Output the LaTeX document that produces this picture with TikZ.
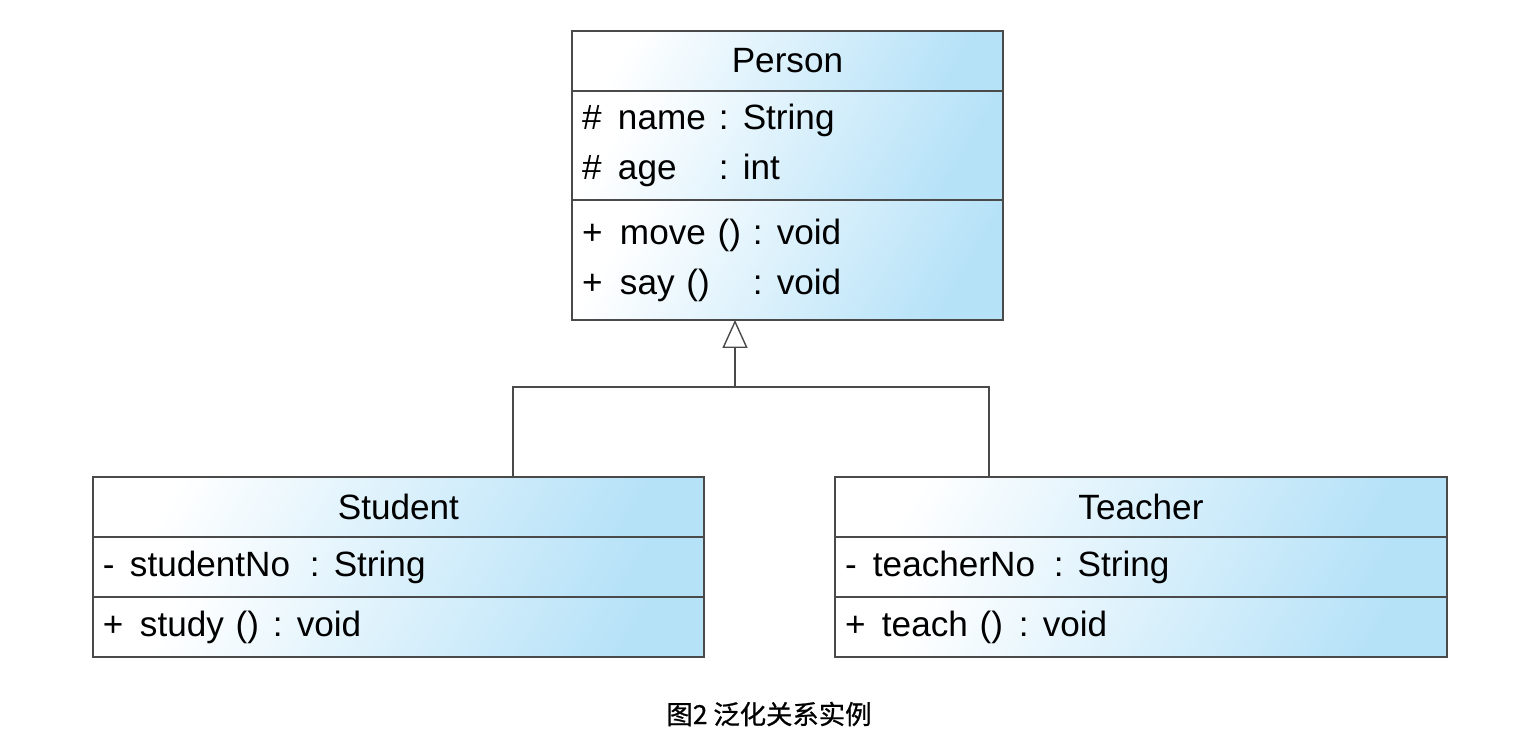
\documentclass[tikz,border=0pt]{standalone}
\usepackage{fontspec}
\setmainfont{Liberation Sans}
\newfontfamily\cjkfont[FakeBold=0.8]{Noto Sans CJK SC}
\usetikzlibrary{positioning, arrows.meta}
\definecolor{umlblue}{HTML}{B6E2F8}
\definecolor{umlline}{HTML}{4A4A4A}
\newcommand{\umlrow}[5]{\makebox[#1][l]{#2}\makebox[#3][l]{#4}:\kern0.4em#5}

\begin{document}
\begin{tikzpicture}[x=0.02cm, y=-0.02cm,
    classbox/.style={rectangle, draw=umlline, line width=0.9pt, outer sep=0pt, inner xsep=0.2cm,
        left color=white, right color=umlblue, shading angle=60,
        font=\fontsize{20}{28.5}\selectfont},
    inherit/.style={draw=umlline, line width=0.8pt}
]
\useasboundingbox (0,0) rectangle (1536,748);

% Person
\node[classbox, anchor=north west, minimum width=8.62cm, minimum height=1.2cm](person-head) at (572,31){Person};
\node[classbox, minimum height=2.18cm, text width=8.22cm, align=left](person-attr)[below=0pt of person-head]{%
\umlrow{0.72cm}{\#}{2.02cm}{name}{String}\\
\umlrow{0.72cm}{\#}{2.02cm}{age}{int}};
\node[classbox, minimum height=2.4cm, text width=8.22cm, align=left](person-ops)[below=0pt of person-attr]{%
\umlrow{0.76cm}{+}{2.66cm}{move ()}{void}\\
\umlrow{0.76cm}{+}{2.66cm}{say ()}{void}};

% Student
\node[classbox, anchor=north west, minimum width=12.22cm, minimum height=1.2cm](student-head) at (93,477){Student};
\node[classbox, minimum height=1.2cm, text width=11.82cm, align=left](student-attr)[below=0pt of student-head]{%
\umlrow{0.54cm}{-}{3.6cm}{studentNo}{String}};
\node[classbox, minimum height=1.2cm, text width=11.82cm, align=left](student-ops)[below=0pt of student-attr]{%
\umlrow{0.74cm}{+}{2.66cm}{study ()}{void}};

% Teacher
\node[classbox, anchor=north west, minimum width=12.24cm, minimum height=1.2cm](teacher-head) at (835,477){Teacher};
\node[classbox, minimum height=1.2cm, text width=11.84cm, align=left](teacher-attr)[below=0pt of teacher-head]{%
\umlrow{0.56cm}{-}{3.62cm}{teacherNo}{String}};
\node[classbox, minimum height=1.2cm, text width=11.84cm, align=left](teacher-ops)[below=0pt of teacher-attr]{%
\umlrow{0.74cm}{+}{2.74cm}{teach ()}{void}};

% generalization
\coordinate (fork) at (735,387);
\coordinate (s-up) at (513,387);
\coordinate (t-up) at (989,387);
\draw[inherit] (student-head.north -| s-up) -- (s-up) -- (t-up) -- (teacher-head.north -| t-up);
\draw[inherit, -{Triangle[open, length=0.56cm, width=0.5cm, fill=white]}] (fork) -- (person-ops.south -| fork);

\node[font=\cjkfont\fontsize{15}{15}\selectfont](caption) at (769,714){图2 泛化关系实例};
\end{tikzpicture}
\end{document}
